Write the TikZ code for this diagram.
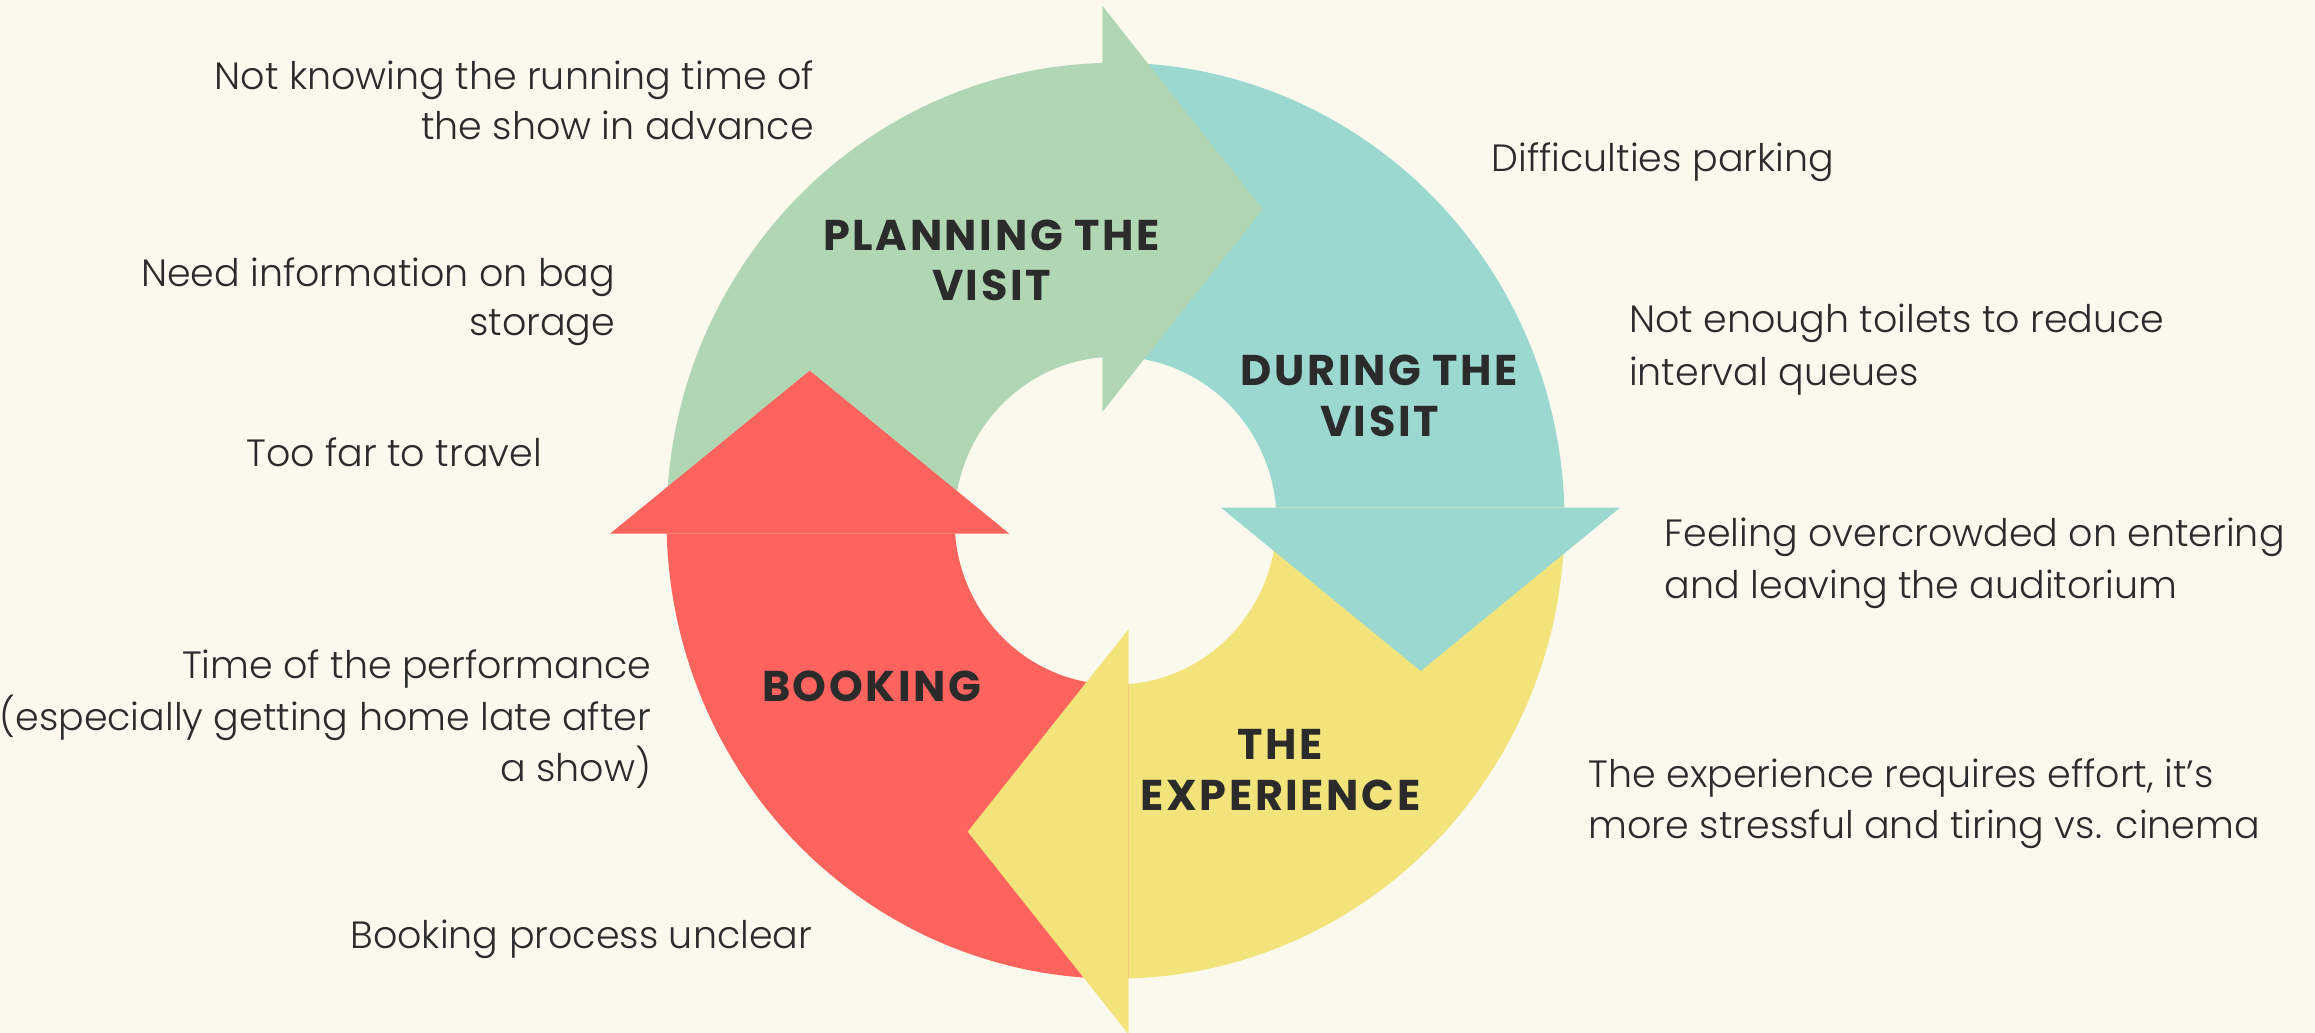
\documentclass[tikz,border=0pt]{standalone}
\usepackage{fontspec}
\setmainfont{Poppins}[UprightFont=* Light]
\newfontfamily\headfont{Poppins}[UprightFont=* Bold, LetterSpace=6]
\usetikzlibrary{calc}
\definecolor{bgc}{HTML}{FBF9ED}
\definecolor{cgreen}{HTML}{B1D6B4}
\definecolor{cteal}{HTML}{9BD8D0}
\definecolor{cyellow}{HTML}{F2E47A}
\definecolor{cred}{HTML}{FF635E}
\definecolor{txt}{HTML}{2B2B2B}
\tikzset{
  body/.style={inner sep=0pt, text=txt, font=\fontsize{38}{44}\selectfont},
  head/.style={inner sep=0pt, text=txt, font=\headfont\fontsize{43}{50}\selectfont},
}
\begin{document}
\begin{tikzpicture}[x=1pt,y=-1pt]
\useasboundingbox (0,0) rectangle (2315,1033);
\fill[bgc] (0,0) rectangle (2315,1033);
\coordinate (C) at (1115.5,520.7);
% bands
\fill[cgreen] ($(C)+(178.37:449 and 458)$) arc[start angle=178.37, end angle=268.32, x radius=449, y radius=458]
  -- ($(C)+(265.30:161 and 164)$) arc[start angle=265.30, end angle=175.45, x radius=161, y radius=164] -- cycle;
\fill[cteal] ($(C)+(268.32:449 and 458)$) arc[start angle=268.32, end angle=358.37, x radius=449, y radius=458]
  -- ($(C)+(355.45:161 and 164)$) arc[start angle=355.45, end angle=265.30, x radius=161, y radius=164] -- cycle;
\fill[cyellow] ($(C)+(358.37:449 and 458)$) arc[start angle=358.37, end angle=448.32, x radius=449, y radius=458]
  -- ($(C)+(445.30:161 and 164)$) arc[start angle=445.30, end angle=355.45, x radius=161, y radius=164] -- cycle;
\fill[cred] ($(C)+(88.32:449 and 458)$) arc[start angle=88.32, end angle=178.37, x radius=449, y radius=458]
  -- ($(C)+(175.45:161 and 164)$) arc[start angle=175.45, end angle=85.30, x radius=161, y radius=164] -- cycle;
% heads
\fill[cgreen] (1102.3,5.7) -- (1262.7,209.3) -- (1102.3,412) -- cycle;
\fill[cteal] (1221,507.7) -- (1420.7,671) -- (1620,507.7) -- cycle;
\fill[cyellow] (1128.7,629) -- (967.7,831.7) -- (1128.7,1034.4) -- cycle;
\fill[cred] (610,533.7) -- (809.7,370.7) -- (1009.3,533.7) -- cycle;
% headings
\node[head, anchor=base] (h1a) at (991.5,250) {PLANNING THE};
\node[head, anchor=base] (h1b) at (991.5,300.7) {VISIT};
\node[head, anchor=base] (h2a) at (1379.5,385) {DURING THE};
\node[head, anchor=base] (h2b) at (1379.5,436.7) {VISIT};
\node[head, anchor=base] (h3a) at (1280.5,759) {THE};
\node[head, anchor=base] (h3b) at (1280.5,810) {EXPERIENCE};
\node[head, anchor=base] (h4) at (871.6,701) {BOOKING};
% left texts
\node[body, anchor=base east] (l1a) at (814,89.3) {Not knowing the running time of};
\node[body, anchor=base east] (l1b) at (814,139.3) {the show in advance};
\node[body, anchor=base east] (l2a) at (615.3,286) {Need information on bag};
\node[body, anchor=base east] (l2b) at (615.3,335) {storage};
\node[body, anchor=base east] (l3) at (542,466.5) {Too far to travel};
\node[body, anchor=base east] (l4a) at (651.4,678.3) {Time of the performance};
\node[body, anchor=base east] (l4b) at (651.4,730) {(especially getting home late after};
\node[body, anchor=base east] (l4c) at (651.4,781.6) {a show)};
\node[body, anchor=base east] (l5) at (812.3,948.6) {Booking process unclear};
% right texts
\node[body, anchor=base west] (r1) at (1491.5,171.7) {Difficulties parking};
\node[body, anchor=base west] (r2a) at (1629,332.7) {Not enough toilets to reduce};
\node[body, anchor=base west] (r2b) at (1629,385) {interval queues};
\node[body, anchor=base west] (r3a) at (1664.7,546.7) {Feeling overcrowded on entering};
\node[body, anchor=base west] (r3b) at (1664.7,598.3) {and leaving the auditorium};
\node[body, anchor=base west] (r4a) at (1588.5,787.3) {The experience requires effort, it’s};
\node[body, anchor=base west] (r4b) at (1588.5,838.3) {more stressful and tiring vs. cinema};
\end{tikzpicture}
\end{document}
